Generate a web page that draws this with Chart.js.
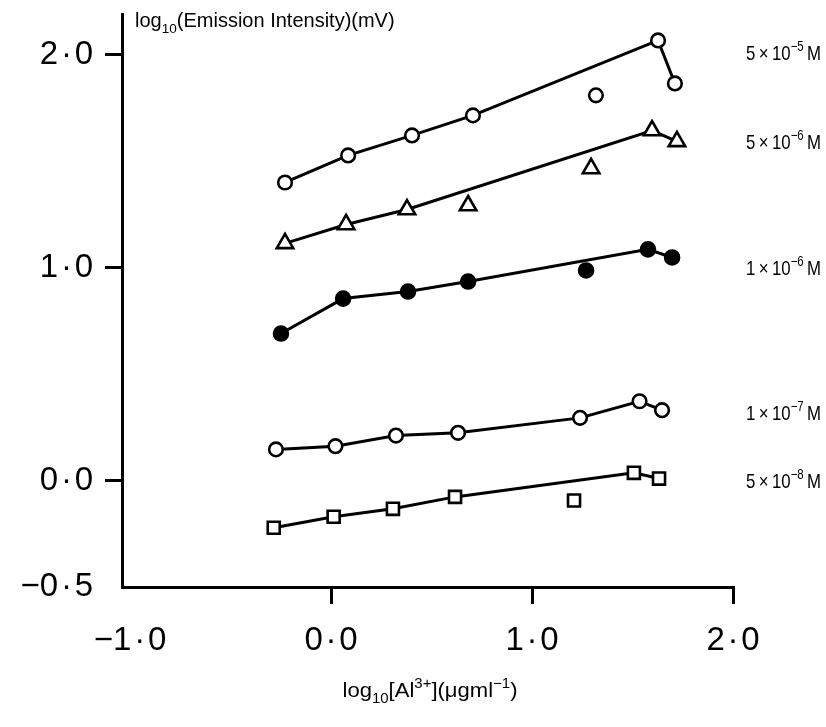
<!DOCTYPE html>
<html><head><meta charset="utf-8">
<script src="https://cdn.jsdelivr.net/npm/chart.js@4/dist/chart.umd.min.js"></script>
<style>html,body{margin:0;padding:0;background:#fff}#wrap{width:826px;height:727px}</style>
</head><body><div id="wrap"><canvas id="c" width="826" height="727"></canvas></div>
<script>
// ---------- data ----------
const xTicks = [-1, 0, 1, 2];
const yTicks = [-0.5, 0, 1, 2];

// 5 x 10^-5 M  (open circles)
const s5e5_x = [-0.229, 0.085, 0.403, 0.706, 1.318, 1.627, 1.711];
const s5e5_y = [1.399, 1.526, 1.620, 1.714, 1.808, 2.066, 1.864];
const s5e5_off = [4];
// 5 x 10^-6 M  (open triangles)
const s5e6_x = [-0.229, 0.075, 0.378, 0.682, 1.294, 1.597, 1.721];
const s5e6_y = [1.113, 1.202, 1.272, 1.291, 1.465, 1.643, 1.592];
const s5e6_off = [3, 4];
// 1 x 10^-6 M  (filled circles)
const s1e6_x = [-0.249, 0.060, 0.383, 0.682, 1.269, 1.577, 1.697];
const s1e6_y = [0.690, 0.854, 0.887, 0.934, 0.986, 1.085, 1.047];
const s1e6_off = [4];
// 1 x 10^-7 M  (open circles)
const s1e7_x = [-0.274, 0.022, 0.323, 0.632, 1.239, 1.535, 1.647];
const s1e7_y = [0.146, 0.161, 0.211, 0.224, 0.294, 0.372, 0.330];
const s1e7_off = [];
// 5 x 10^-8 M  (open squares)
const s5e8_x = [-0.285, 0.013, 0.308, 0.617, 1.209, 1.507, 1.632];
const s5e8_y = [-0.222, -0.170, -0.133, -0.077, -0.094, 0.036, 0.009];
const s5e8_off = [4];

const seriesCoef = [5, 5, 1, 1, 5];
const seriesExp = [-5, -6, -6, -7, -8];

// ---------- build ----------
const FONT = 'Liberation Sans';
const styles = [
  {pointStyle:'circle', radius:6.8, fill:'#fff'},
  {pointStyle:'triangle', radius:9.5, fill:'#fff'},
  {pointStyle:'circle', radius:7, fill:'#000'},
  {pointStyle:'circle', radius:6.8, fill:'#fff'},
  {pointStyle:'rect', radius:8.5, fill:'#fff'}
];
const series = [
  [s5e5_x, s5e5_y, s5e5_off],
  [s5e6_x, s5e6_y, s5e6_off],
  [s1e6_x, s1e6_y, s1e6_off],
  [s1e7_x, s1e7_y, s1e7_off],
  [s5e8_x, s5e8_y, s5e8_off]
];
const datasets = [];
series.forEach(([xs, ys, off], i) => {
  const st = styles[i];
  const common = {
    pointStyle: st.pointStyle, pointRadius: st.radius,
    pointBackgroundColor: st.fill, pointBorderColor: '#000', pointBorderWidth: 2.6,
    borderColor: '#000', borderWidth: 3, tension: 0
  };
  const onLine = xs.map((x, k) => ({x, y: ys[k], k})).filter(p => !off.includes(p.k));
  const offLine = xs.map((x, k) => ({x, y: ys[k], k})).filter(p => off.includes(p.k));
  datasets.push(Object.assign({data: onLine, showLine: true}, common));
  if (offLine.length) datasets.push(Object.assign({data: offLine, showLine: false}, common));
});

function fmt(v) {
  const s = Math.abs(v).toFixed(1).replace('.', '\u200A\u00B7\u200A');
  return v < 0 ? '\u2212' + s : s;
}

function drawRich(ctx, parts, x, y, size, align, sx) {
  sx = sx || 1;
  const sub = size * 0.68;
  const widths = parts.map(([t, k]) => {
    ctx.font = (k === 'n' ? size : sub) + 'px "' + FONT + '"';
    return ctx.measureText(t).width;
  });
  const total = widths.reduce((a, b) => a + b, 0) * sx;
  const x0 = align === 'center' ? x - total / 2 : (align === 'right' ? x - total : x);
  ctx.save();
  ctx.translate(x0, y);
  ctx.scale(sx, 1);
  ctx.textBaseline = 'alphabetic';
  ctx.textAlign = 'left';
  let cx = 0;
  parts.forEach(([t, k], i) => {
    ctx.font = (k === 'n' ? size : sub) + 'px "' + FONT + '"';
    const dy = k === 'sup' ? -size * 0.42 : (k === 'sub' ? size * 0.3 : 0);
    ctx.fillText(t, cx, dy);
    cx += widths[i];
  });
  ctx.restore();
}

const textPlugin = {
  id: 'texts',
  afterDraw(chart, args, opts) {
    const ctx = chart.ctx;
    const ys = chart.scales.y;
    ctx.save();
    ctx.fillStyle = '#000';
    drawRich(ctx, [['log','n'],['10','sub'],['(Emission Intensity)(mV)','n']], 135, 27, 20, 'left', 1.0);
    drawRich(ctx, [['log','n'],['10','sub'],['[Al','n'],['3+','sup'],['](\u03BCgml','n'],['\u22121','sup'],[')','n']], 430, 697, 21, 'center', 1.05);
    opts.labels.forEach((lp, i) => {
      const py = ys.getPixelForValue(lp.y) + 7.5;
      drawRich(ctx, [[seriesCoef[i] + '\u2009\u00D7\u200910','n'],['\u2212' + Math.abs(seriesExp[i]),'sup'],['\u2009M','n']], opts.rightEdge, py, 21, 'right', 0.8);
    });
    ctx.restore();
  }
};

new Chart(document.getElementById('c'), {
  type: 'scatter',
  data: {datasets},
  plugins: [textPlugin],
  options: {
    responsive: false, animation: false, devicePixelRatio: 1,
    layout: {padding: {left: 0, right: 93, top: 14, bottom: 0}},
    plugins: {
      legend: {display: false}, tooltip: {enabled: false},
      texts: {rightEdge: 821, labels: [
        {y: 2.01}, {y: 1.59}, {y: 1.0}, {y: 0.32}, {y: 0.0}
      ]}
    },
    scales: {
      x: {
        type: 'linear', min: -1.04, max: 2,
        afterBuildTicks: s => { s.ticks = xTicks.map(v => ({value: v})); },
        afterFit: s => { s.height = 140; s.paddingLeft = 0; s.paddingRight = 0; },
        border: {display: true, color: '#000', width: 3},
        grid: {drawOnChartArea: false, drawTicks: true, tickLength: 17, lineWidth: 3,
               color: c => (c.tick && c.tick.value === -1) ? 'rgba(0,0,0,0)' : '#000'},
        ticks: {color: '#000', font: {family: FONT, size: 33}, padding: 17,
                maxRotation: 0, autoSkip: false, callback: v => fmt(v)}
      },
      y: {
        type: 'linear', min: -0.5, max: 2.19,
        afterBuildTicks: s => { s.ticks = yTicks.map(v => ({value: v})); },
        afterFit: s => { s.width = 122; s.paddingTop = 0; s.paddingBottom = 0; },
        border: {display: true, color: '#000', width: 3},
        grid: {drawOnChartArea: false, drawTicks: true, tickLength: 17, lineWidth: 3,
               color: c => (c.tick && c.tick.value === -0.5) ? 'rgba(0,0,0,0)' : '#000'},
        ticks: {color: '#000', font: {family: FONT, size: 33}, padding: 12,
                autoSkip: false, callback: v => fmt(v)}
      }
    }
  }
});
</script></body></html>
